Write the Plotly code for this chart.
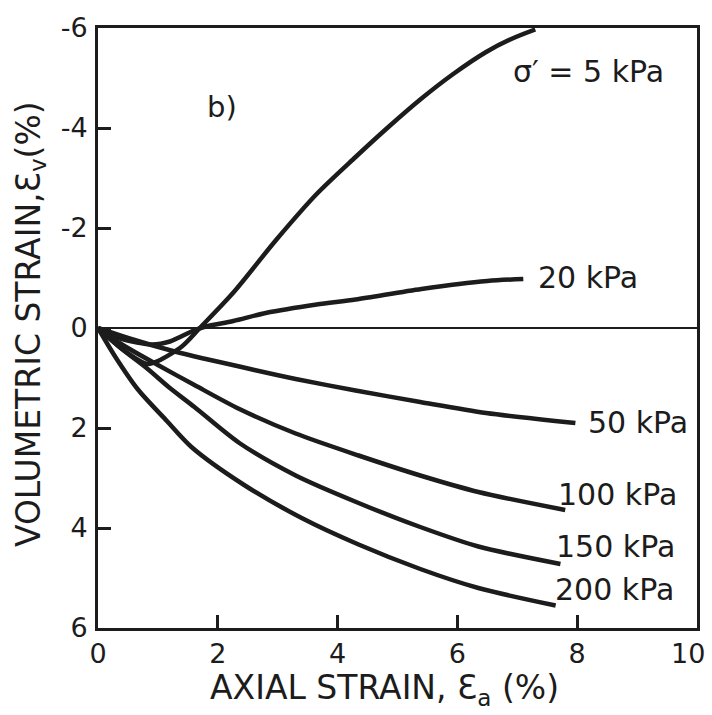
import plotly.graph_objects as go

# Axial strain (%) vs volumetric strain (%) for each confining pressure
x_5 = [0, 0.4, 0.83, 1.0, 1.4, 1.7, 2.26, 2.98, 3.65, 4.3, 4.82, 5.38, 5.93, 6.48, 6.9, 7.3]
y_5 = [0, 0.42, 0.72, 0.66, 0.37, 0.0, -0.71, -1.77, -2.68, -3.42, -3.99, -4.57, -5.08, -5.52, -5.78, -5.97]

x_20 = [0, 0.4, 0.9, 1.2, 1.6, 1.8, 2.26, 2.8, 3.65, 4.3, 5.4, 6.5, 7.1]
y_20 = [0, 0.22, 0.33, 0.27, 0.05, -0.03, -0.14, -0.3, -0.47, -0.57, -0.78, -0.94, -0.98]

x_50 = [0, 0.5, 1.28, 1.8, 2.36, 2.61, 3.3, 4.3, 5.38, 6.48, 7.97]
y_50 = [0, 0.2, 0.47, 0.62, 0.77, 0.84, 1.02, 1.25, 1.48, 1.7, 1.9]

x_100 = [0, 0.4, 1.0, 1.61, 2.36, 3.3, 4.35, 5.38, 6.35, 7.8]
y_100 = [0, 0.33, 0.74, 1.14, 1.62, 2.11, 2.55, 2.95, 3.28, 3.64]

x_150 = [0, 0.4, 0.83, 1.2, 1.61, 2.36, 3.3, 4.35, 5.38, 6.35, 7.72]
y_150 = [0, 0.42, 0.82, 1.2, 1.58, 2.3, 2.95, 3.5, 3.98, 4.37, 4.72]

x_200 = [0, 0.28, 0.66, 1.15, 1.56, 2.44, 3.4, 4.35, 5.38, 6.35, 7.64]
y_200 = [0, 0.56, 1.22, 1.86, 2.38, 3.14, 3.8, 4.33, 4.82, 5.2, 5.55]

series = [
    (x_5, y_5), (x_20, y_20), (x_50, y_50),
    (x_100, y_100), (x_150, y_150), (x_200, y_200),
]

# Curve labels: text, x, y (data units)
label_text = ["σ′ = 5 kPa", "20 kPa", "50 kPa", "100 kPa", "150 kPa", "200 kPa"]
label_x = [6.89, 7.31, 8.14, 7.64, 7.62, 7.59]
label_y = [-5.14, -1.02, 1.89, 3.32, 4.37, 5.22]

x_ticks = [0, 2, 4, 6, 8, 10]
x_tick_text = ["0", "2", "4", "6", "8", ""]   # the "10" at the corner is set as its own label
y_ticks = [-6, -4, -2, 0, 2, 4, 6]
y_tick_text = ["-6", "-4", "-2", "0", "2", "4", "6"]

INK = "#1c1c1c"
FONT = "DejaVu Sans"

fig = go.Figure()
for xs, ys in series:
    fig.add_trace(go.Scatter(
        x=xs, y=ys, mode="lines",
        line=dict(color=INK, width=4.5, shape="spline", smoothing=0.8),
        showlegend=False, hoverinfo="skip",
    ))

annotations = [
    dict(x=t_x, y=t_y, text=t, xref="x", yref="y", xanchor="left",
         yanchor="middle", showarrow=False,
         font=dict(family=FONT, size=30, color=INK))
    for t, t_x, t_y in zip(label_text, label_x, label_y)
]
annotations.append(dict(x=1.78, y=-4.43, text="b)", xref="x", yref="y",
                        xanchor="left", yanchor="middle", showarrow=False,
                        font=dict(family=FONT, size=29, color=INK)))
# corner tick label of the x axis, kept inside the page
annotations.append(dict(x=x_ticks[-1], y=0, xref="x", yref="paper",
                        text=str(x_ticks[-1]), xanchor="right", yanchor="top",
                        xshift=10, yshift=-8, showarrow=False,
                        font=dict(family=FONT, size=27, color=INK)))
annotations.append(dict(x=0.478, y=-0.102, xref="paper", yref="paper",
                        text="AXIAL STRAIN, Ɛ<sub>a</sub> (%)",
                        xanchor="center", yanchor="middle", showarrow=False,
                        font=dict(family=FONT, size=33, color=INK)))
annotations.append(dict(x=-0.113, y=0.507, xref="paper", yref="paper",
                        text="VOLUMETRIC STRAIN,Ɛ<sub>v</sub>(%)", textangle=-90,
                        xanchor="center", yanchor="middle", showarrow=False,
                        font=dict(family=FONT, size=33, color=INK)))

fig.update_layout(
    width=712, height=715,
    margin=dict(l=98, r=12, t=21, b=87),
    paper_bgcolor="white", plot_bgcolor="white",
    font=dict(family=FONT, color=INK),
    annotations=annotations,
    xaxis=dict(
        range=[0, 10], tickvals=x_ticks, ticktext=x_tick_text, ticks="inside",
        ticklen=13, tickwidth=2.5, tickcolor=INK, showgrid=False, zeroline=False,
        showline=True, linewidth=3, linecolor=INK, mirror=True,
        tickfont=dict(family=FONT, size=27, color=INK), ticklabelstandoff=0,
    ),
    yaxis=dict(
        range=[6, -6], tickvals=y_ticks, ticktext=y_tick_text, ticks="inside",
        ticklen=13, tickwidth=2.5, tickcolor=INK, showgrid=False,
        zeroline=True, zerolinecolor=INK, zerolinewidth=2,
        showline=True, linewidth=3, linecolor=INK, mirror=True,
        tickfont=dict(family=FONT, size=27, color=INK), ticklabelstandoff=2,
    ),
)

fig.write_html("out.html")
